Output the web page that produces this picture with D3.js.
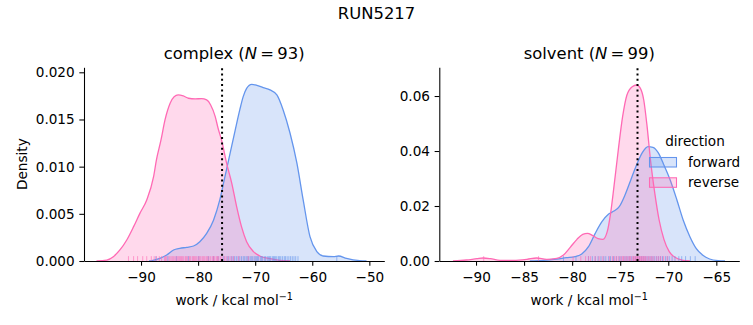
<!DOCTYPE html>
<html>
<head>
<meta charset="utf-8">
<script src="https://cdn.jsdelivr.net/npm/d3@7"></script>
<style>
  html, body { margin: 0; padding: 0; background: #fff; }
  svg { display: block; font-family: "DejaVu Sans", sans-serif; }
</style>
</head>
<body>
<svg id="chart" width="753" height="325"></svg>
<script>
// ---------------- DATA ----------------
const suptitle = "RUN5217";
const panelNames = ["complex", "solvent"];
const panelN = [93, 99];
const directions = ["forward", "reverse"];

// KDE curves: [work, density]
const complexForwardDensity = [
  [-88.6,0],[-88.1,0.00004],[-86.7,0.00028],[-85.5,0.00064],[-84.3,0.00117],[-83.2,0.00134],
  [-82.0,0.00145],[-80.8,0.00159],[-79.7,0.00205],[-78.5,0.00293],[-77.3,0.00433],[-76.2,0.00647],
  [-75.3,0.00894],[-74.4,0.01141],[-73.5,0.01388],[-72.7,0.01601],[-72.1,0.01742],[-71.5,0.01830],
  [-70.6,0.01873],[-69.7,0.01862],[-68.6,0.01837],[-67.4,0.01813],[-66.2,0.01760],[-65.1,0.01601],
  [-63.9,0.01357],[-62.7,0.01039],[-61.6,0.00650],[-60.4,0.00258],[-59.2,0.00099],[-58.1,0.00053],
  [-56.3,0.00046],[-55.4,0.00053],[-54.0,0.00028],[-51.7,0.00004],[-50.5,0]
];
const complexReverseDensity = [
  [-97.8,0],[-96.0,0.0001],[-94.85,0.00046],[-93.7,0.00117],[-92.5,0.00223],[-91.3,0.00364],
  [-90.2,0.00505],[-89.0,0.00647],[-87.8,0.00894],[-87.3,0.01071],[-86.5,0.01283],[-85.8,0.01495],
  [-84.9,0.01672],[-84.2,0.01742],[-83.5,0.01760],[-82.6,0.01749],[-81.7,0.01725],[-80.5,0.01718],
  [-79.4,0.01721],[-78.5,0.01707],[-77.8,0.01654],[-77.0,0.01530],[-76.5,0.01407],[-75.9,0.01283],
  [-75.0,0.01035],[-74.1,0.00823],[-73.25,0.00576],[-72.4,0.00364],[-71.5,0.00205],[-70.3,0.00099],
  [-69.2,0.00053],[-67.4,0.00025],[-65.7,0.00007],[-63.9,0]
];
const solventForwardDensity = [
  [-84.4,0],[-83.0,0.00024],[-81.6,0.00073],[-80.6,0.00121],[-79.7,0.00158],[-79.0,0.00255],
  [-78.3,0.00521],[-77.6,0.01006],[-76.9,0.0143],[-76.2,0.01709],[-75.65,0.01818],[-75.1,0.01976],
  [-74.5,0.024],[-73.9,0.02945],[-73.3,0.03491],[-72.7,0.03939],[-72.1,0.04158],[-71.6,0.04133],
  [-71.05,0.03939],[-70.5,0.03527],[-69.8,0.02945],[-69.1,0.02218],[-68.45,0.01491],[-67.75,0.00885],
  [-67.1,0.00461],[-66.4,0.00206],[-65.7,0.00073],[-64.8,0.00012],[-64.1,0]
];
const solventReverseDensity = [
  [-92.4,0],[-91.0,0.00036],[-89.9,0.00085],[-89.25,0.00109],[-88.5,0.00085],[-87.5,0.00024],
  [-86.1,0.00024],[-84.7,0.00061],[-83.7,0.00109],[-82.65,0.00061],[-81.6,0.00097],[-80.9,0.00218],
  [-80.2,0.00497],[-79.5,0.00788],[-78.9,0.0097],[-78.4,0.01006],[-77.9,0.00933],[-77.3,0.00812],
  [-76.8,0.00788],[-76.35,0.01067],[-76.0,0.01733],[-75.65,0.02703],[-75.2,0.04036],[-74.75,0.05248],
  [-74.3,0.06036],[-73.75,0.0634],[-73.3,0.0640],[-72.9,0.06279],[-72.55,0.05855],[-72.2,0.04885],
  [-71.85,0.03673],[-71.4,0.02461],[-70.95,0.01491],[-70.45,0.00788],[-69.9,0.00339],[-69.3,0.00133],
  [-68.6,0.00036],[-67.75,0]
];

// rug samples (approximate)
const complexForwardRug = [-87.4,-85.3,-83.8,-81.7,-79.9,-78.2,-77.3,-76.5,-75.5,-74.9,-74.6,-74.2,-73.9,
  -73.6,-73.3,-73.0,-72.7,-72.4,-72.1,-71.9,-71.6,-71.4,-71.2,-70.9,-70.7,-70.5,-70.2,-70.0,-69.8,
  -69.6,-69.4,-69.1,-68.9,-68.7,-68.4,-68.2,-67.9,-67.7,-67.5,-67.3,-67.0,-66.8,-66.6,-66.4,-66.2,
  -65.9,-65.7,-65.5,-65.2,-64.9,-64.7,-64.4,-64.1,-63.8,-63.5,-63.2,-62.9,-62.5,-55.7];
const complexReverseRug = [-92.2,-91.3,-90.6,-89.7,-89.0,-88.2,-87.7,-87.3,-86.8,-86.4,-85.9,-85.7,-85.5,
  -85.1,-84.9,-84.6,-84.4,-84.2,-83.9,-83.7,-83.5,-83.3,-83.1,-82.9,-82.7,-82.5,-82.2,-82.0,-81.8,
  -81.5,-81.3,-81.0,-80.8,-80.6,-80.4,-80.2,-79.9,-79.7,-79.5,-79.2,-79.0,-78.8,-78.5,-78.3,-78.1,
  -77.8,-77.5,-77.3,-77.1,-76.8,-76.6,-76.4,-76.1,-75.8,-75.4,-75.1,-74.7,-74.2,-73.8,-72.9,-71.2];
const solventForwardRug = [-80.9,-79.6,-78.3,-77.9,-77.6,-77.3,-77.0,-76.7,-76.5,-76.2,-76.0,-75.7,-75.4,
  -75.1,-74.9,-74.6,-74.4,-74.2,-74.0,-73.8,-73.6,-73.4,-73.2,-73.0,-72.8,-72.6,-72.4,-72.2,-72.0,
  -71.8,-71.6,-71.4,-71.2,-71.0,-70.8,-70.6,-70.3,-70.1,-69.9,-69.6,-69.3,-68.9,-68.6,-68.2,-67.7,-67.2];
const solventReverseRug = [-89.2,-83.5,-79.9,-79.1,-78.6,-78.3,-78.1,-77.6,-77.2,-76.8,-76.1,-75.8,-75.6,
  -75.4,-75.2,-75.0,-74.8,-74.7,-74.6,-74.4,-74.3,-74.1,-74.0,-73.9,-73.7,-73.6,-73.5,-73.4,-73.3,
  -73.2,-73.1,-73.0,-72.9,-72.8,-72.7,-72.6,-72.5,-72.4,-72.3,-72.1,-72.0,-71.8,-71.7,-71.5,-71.2,
  -71.0,-70.8,-70.5,-70.1];

// dotted reference lines
const markerValues = [-75.8, -73.2];

// axes
const complexXDomain = [-99.99, -47.38];
const complexYMax = 0.02053;
const solventXDomain = [-93.82, -62.61];
const solventYMax = 0.07044;
const complexXTicks = [-90, -80, -70, -60, -50];
const complexYTicks = [0, 0.005, 0.010, 0.015, 0.020];
const solventXTicks = [-90, -85, -80, -75, -70, -65];
const solventYTicks = [0, 0.02, 0.04, 0.06];
const yTickFormats = [".3f", ".2f"];

// ---------------- DRAW ----------------
const colors = { forward: "#6495ED", reverse: "#FF69B4" };
const svg = d3.select("#chart");

const layouts = [
  { left: 84, right: 384.3 },
  { left: 439.3, right: 739.3 }
];
const plotTop = 67.3, plotBottom = 261;
const fontSize = 13.6;
const titleSize = 16.4;

const panels = [
  { xDomain: complexXDomain, yMax: complexYMax, xTicks: complexXTicks, yTicks: complexYTicks,
    dens: { forward: complexForwardDensity, reverse: complexReverseDensity },
    rug: { forward: complexForwardRug, reverse: complexReverseRug } },
  { xDomain: solventXDomain, yMax: solventYMax, xTicks: solventXTicks, yTicks: solventYTicks,
    dens: { forward: solventForwardDensity, reverse: solventReverseDensity },
    rug: { forward: solventForwardRug, reverse: solventReverseRug } }
];

svg.append("text")
  .attr("x", 376.5).attr("y", 19)
  .attr("text-anchor", "middle")
  .attr("font-size", titleSize).attr("fill", "#000")
  .text(suptitle);

panels.forEach((p, i) => {
  const L = layouts[i];
  const x = d3.scaleLinear().domain(p.xDomain).range([L.left, L.right]);
  const y = d3.scaleLinear().domain([0, p.yMax]).range([plotBottom, plotTop]);
  const g = svg.append("g");

  const area = d3.area().x(d => x(d[0])).y0(y(0)).y1(d => y(d[1])).curve(d3.curveMonotoneX);
  const line = d3.line().x(d => x(d[0])).y(d => y(d[1])).curve(d3.curveMonotoneX);

  directions.forEach(dir => {
    g.append("path").datum(p.dens[dir])
      .attr("d", area)
      .attr("fill", colors[dir]).attr("fill-opacity", 0.25);
  });
  directions.forEach(dir => {
    g.append("path").datum(p.dens[dir])
      .attr("d", line)
      .attr("fill", "none").attr("stroke", colors[dir]).attr("stroke-width", 1.3);
  });

  // rug
  directions.forEach(dir => {
    g.append("g").selectAll("line").data(p.rug[dir]).join("line")
      .attr("x1", d => x(d)).attr("x2", d => x(d))
      .attr("y1", plotBottom).attr("y2", plotBottom - 4.85)
      .attr("stroke", colors[dir]).attr("stroke-opacity", 0.6).attr("stroke-width", 1);
  });

  // dotted marker
  g.append("line")
    .attr("x1", x(markerValues[i])).attr("x2", x(markerValues[i]))
    .attr("y1", plotBottom).attr("y2", plotTop)
    .attr("stroke", "#000").attr("stroke-width", 2)
    .attr("stroke-dasharray", "2,3.3");

  // axes
  const xAxis = d3.axisBottom(x).tickValues(p.xTicks).tickSizeInner(4.67).tickSizeOuter(0).tickPadding(4.67);
  const yAxis = d3.axisLeft(y).tickValues(p.yTicks).tickSizeInner(4.67).tickSizeOuter(0).tickPadding(4.67)
    .tickFormat(d3.format(yTickFormats[i]));

  const gx = svg.append("g").attr("transform", `translate(0,${plotBottom})`).call(xAxis);
  const gy = svg.append("g").attr("transform", `translate(${L.left},0)`).call(yAxis);
  [gx, gy].forEach(a => {
    a.attr("font-family", "DejaVu Sans").attr("font-size", fontSize);
    a.selectAll("path.domain").attr("stroke", "#000").attr("stroke-width", 1.07);
    a.selectAll(".tick line").attr("stroke", "#000").attr("stroke-width", 1.07);
    a.selectAll(".tick text").attr("fill", "#000");
  });
  gx.selectAll(".tick text").attr("dy", "0.83em");

  // title
  const cx = (L.left + L.right) / 2;
  const t = svg.append("text").attr("x", cx).attr("y", 59)
    .attr("text-anchor", "middle").attr("font-size", titleSize).attr("fill", "#000");
  t.append("tspan").text(panelNames[i] + " (");
  t.append("tspan").attr("font-style", "italic").text("N");
  t.append("tspan").text("\u2009=\u2009" + panelN[i] + ")");

  // x label
  const xl = svg.append("text").attr("x", cx).attr("y", 305)
    .attr("text-anchor", "middle").attr("font-size", fontSize).attr("fill", "#000");
  xl.append("tspan").text("work / kcal mol");
  xl.append("tspan").attr("font-size", 9.6).attr("dy", -5.5).text("\u22121");
});

// y label
svg.append("text")
  .attr("transform", `translate(27,${(plotTop + plotBottom) / 2}) rotate(-90)`)
  .attr("text-anchor", "middle").attr("font-size", fontSize).attr("fill", "#000")
  .text("Density");

// legend
const lg = svg.append("g");
lg.append("text").attr("x", 695).attr("y", 146).attr("text-anchor", "middle")
  .attr("font-size", fontSize).attr("fill", "#000").text("direction");
directions.forEach((dir, k) => {
  const yy = 157.5 + k * 20.3;
  lg.append("rect").attr("x", 649.5).attr("y", yy).attr("width", 27).attr("height", 9.5)
    .attr("fill", colors[dir]).attr("fill-opacity", 0.25)
    .attr("stroke", colors[dir]).attr("stroke-width", 1.07);
  lg.append("text").attr("x", 688).attr("y", yy + 9).attr("font-size", fontSize)
    .attr("fill", "#000").text(dir);
});
</script>
</body>
</html>
